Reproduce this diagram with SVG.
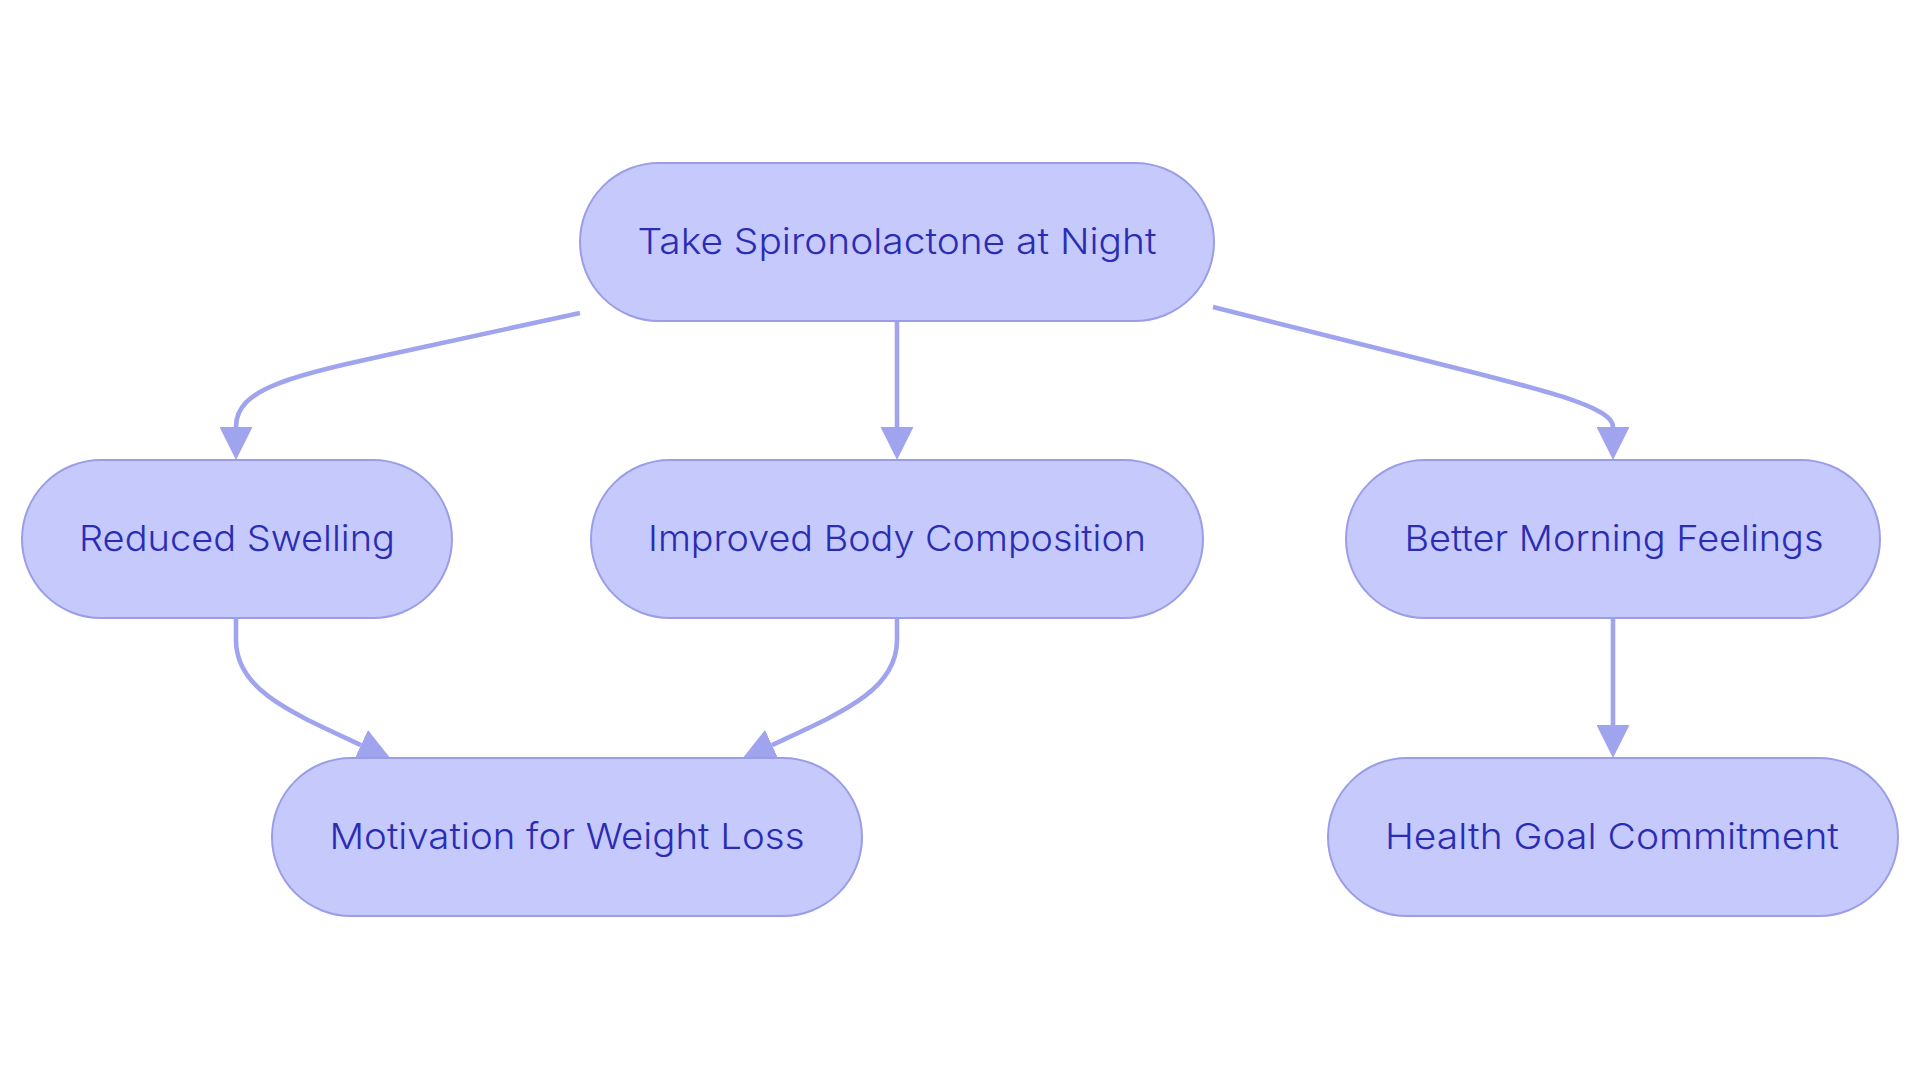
<svg xmlns="http://www.w3.org/2000/svg" width="1920" height="1083" viewBox="0 0 1920 1083">
  <style>
    .node rect { fill: #C6C9FC; stroke: #9B9EE6; stroke-width: 2; }
    .node text { font-family: Inter, "Noto Sans", "Liberation Sans", sans-serif; font-size: 36px; font-weight: 300; fill: #2A2DB3; text-anchor: middle; }
    .edge { fill: none; stroke: #A0A3EE; stroke-width: 4.6; }
  </style>
  <defs>
    <marker id="arrow" viewBox="0 0 10 10" refX="0" refY="5" markerWidth="33" markerHeight="33" markerUnits="userSpaceOnUse" orient="auto">
      <path d="M0,0 L10,5 L0,10 z" fill="#A0A3EE"/>
    </marker>
  </defs>
  <rect width="1920" height="1083" fill="#FFFFFF"/>
  <g id="edges">
    <path class="edge" d="M580,313 L410,350 C290,376 236,388 236,427" marker-end="url(#arrow)"/>
    <path class="edge" d="M897,321 L897,427" marker-end="url(#arrow)"/>
    <path class="edge" d="M1213,307 L1420,359 C1530,387 1613,405 1613,427" marker-end="url(#arrow)"/>
    <path class="edge" d="M236,617 L236,640 C236,690 290,712 361,745" marker-end="url(#arrow)"/>
    <path class="edge" d="M897,617 L897,640 C897,690 843,712 772,745" marker-end="url(#arrow)"/>
    <path class="edge" d="M1613,617 L1613,725" marker-end="url(#arrow)"/>
  </g>
  <g id="node-take" class="node">
    <rect x="580" y="163" width="634" height="158" rx="79" ry="79"/>
    <text x="897" y="254" textLength="519" lengthAdjust="spacingAndGlyphs">Take Spironolactone at Night</text>
  </g>
  <g id="node-reduced" class="node">
    <rect x="22" y="460" width="430" height="158" rx="79" ry="79"/>
    <text x="237" y="551" textLength="316" lengthAdjust="spacingAndGlyphs">Reduced Swelling</text>
  </g>
  <g id="node-improved" class="node">
    <rect x="591" y="460" width="612" height="158" rx="79" ry="79"/>
    <text x="897" y="551" textLength="498" lengthAdjust="spacingAndGlyphs">Improved Body Composition</text>
  </g>
  <g id="node-better" class="node">
    <rect x="1346" y="460" width="534" height="158" rx="79" ry="79"/>
    <text x="1614" y="551" textLength="419" lengthAdjust="spacingAndGlyphs">Better Morning Feelings</text>
  </g>
  <g id="node-motivation" class="node">
    <rect x="272" y="758" width="590" height="158" rx="79" ry="79"/>
    <text x="567" y="849" textLength="475" lengthAdjust="spacingAndGlyphs">Motivation for Weight Loss</text>
  </g>
  <g id="node-health" class="node">
    <rect x="1328" y="758" width="570" height="158" rx="79" ry="79"/>
    <text x="1612" y="849" textLength="454" lengthAdjust="spacingAndGlyphs">Health Goal Commitment</text>
  </g>
</svg>
